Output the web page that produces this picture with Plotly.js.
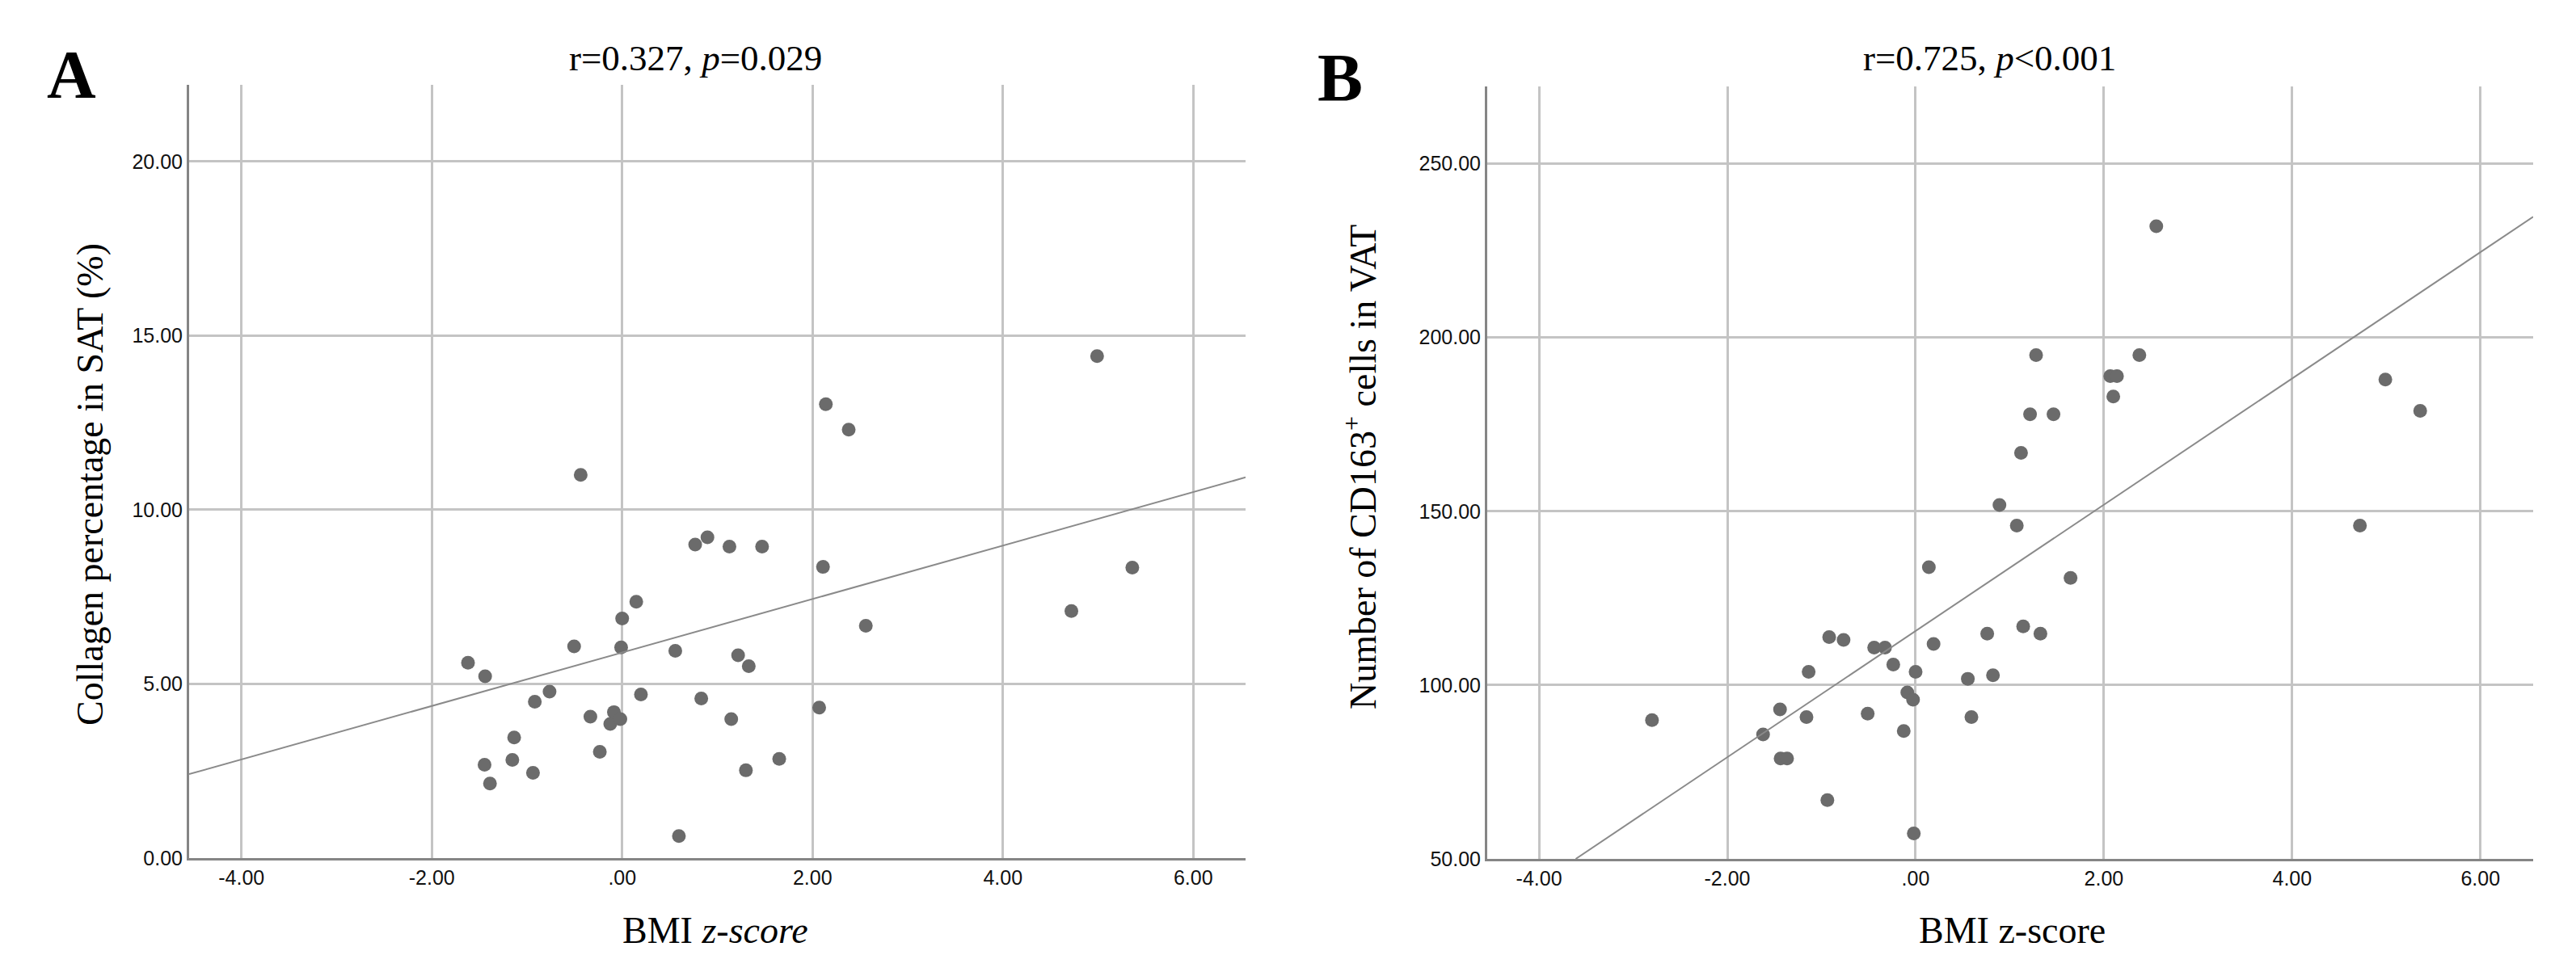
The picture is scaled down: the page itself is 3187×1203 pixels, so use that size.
<!DOCTYPE html>
<html>
<head>
<meta charset="utf-8">
<script src="https://cdn.plot.ly/plotly-3.0.1.min.js"></script>
<style>
  html, body { margin: 0; padding: 0; background: #ffffff; }
  #chart { width: 3187px; height: 1203px; }
</style>
</head>
<body>
<div id="chart"></div>
<script>
// ---- Panel A: Collagen percentage in SAT vs BMI z-score ----
const bmiA = [-1.62, -1.446, -1.44, -1.389, -1.154, -1.135, -0.937, -0.918, -0.763, -0.505,
              -0.436, -0.334, -0.235, -0.125, -0.087, -0.019, -0.011, 0.0, 0.148, 0.197,
              0.558, 0.596, 0.767, 0.831, 0.896, 1.127, 1.146, 1.218, 1.30, 1.33,
              1.47, 1.65, 2.07, 2.11, 2.14, 2.38, 2.56, 4.72, 4.99, 5.36];
const collagenSAT = [5.61, 2.68, 5.22, 2.14, 2.82, 3.46, 2.45, 4.49, 4.78, 6.08,
                     11.0, 4.06, 3.05, 3.85, 4.19, 3.99, 6.05, 6.88, 7.36, 4.70,
                     5.95, 0.63, 9.00, 4.58, 9.21, 8.94, 3.99, 5.82, 2.52, 5.51,
                     8.94, 2.85, 4.32, 8.36, 13.03, 12.30, 6.67, 7.09, 14.41, 8.34];
// fit line (end points at the axis edges)
const fitA_x = [-4.55, 6.55];
const fitA_y = [2.41, 10.93];

// ---- Panel B: Number of CD163+ cells in VAT vs BMI z-score ----
const bmiB = [-2.80, -1.62, -1.44, -1.434, -1.365, -1.159, -1.136, -0.937, -0.918, -0.765,
              -0.509, -0.44, -0.325, -0.237, -0.126, -0.088, -0.027, -0.019, 0.0, 0.141,
              0.191, 0.555, 0.593, 0.761, 0.822, 0.891, 1.075, 1.12, 1.143, 1.216,
              1.28, 1.326, 1.465, 1.646, 2.068, 2.10, 2.139, 2.377, 2.557, 4.72,
              4.99, 5.36];
const cd163VAT = [89.9, 85.8, 93.0, 78.9, 78.9, 90.8, 103.8, 66.9, 113.8, 113.0,
                  91.8, 110.8, 110.8, 105.9, 86.8, 97.9, 95.8, 57.3, 103.8, 133.9,
                  111.8, 101.8, 90.8, 114.8, 102.8, 151.8, 145.9, 166.8, 116.9, 177.9,
                  194.9, 114.8, 177.9, 130.8, 188.9, 183.0, 188.9, 194.9, 232.0, 145.9,
                  187.9, 178.9];
const fitB_x = [-3.61, 6.56];
const fitB_y = [50.0, 234.7];

// ---- tick labels ----
const xTickVals = [-4, -2, 0, 2, 4, 6];
const xTickText = ["-4.00", "-2.00", ".00", "2.00", "4.00", "6.00"];
const yTickValsA = [0, 5, 10, 15, 20];
const yTickTextA = ["0.00", "5.00", "10.00", "15.00", "20.00"];
const yTickValsB = [50, 100, 150, 200, 250];
const yTickTextB = ["50.00", "100.00", "150.00", "200.00", "250.00"];

// ---- texts ----
const titleA = "r=0.327, <i>p</i>=0.029";
const titleB = "r=0.725, <i>p</i>&lt;0.001";
const yTitleA = "Collagen percentage in SAT (%)";
const yTitleB = "Number of CD163<sup>+</sup> cells in VAT";
const xTitleA = "BMI <i>z-score</i>";
const xTitleB = "BMI z-score";

const markerColor = "#6b6b6b";
const lineColor = "#8a8a8a";
const gridColor = "#c4c4c4";
const axisColor = "#858585";
const serif = "Liberation Serif, Times New Roman, serif";
const sans = "Liberation Sans, Arial, sans-serif";

const traces = [
  { x: bmiA, y: collagenSAT, type: "scatter", mode: "markers", xaxis: "x", yaxis: "y",
    marker: { color: markerColor, size: 17 }, hoverinfo: "x+y" },
  { x: fitA_x, y: fitA_y, type: "scatter", mode: "lines", xaxis: "x", yaxis: "y",
    line: { color: lineColor, width: 2 }, hoverinfo: "skip" },
  { x: bmiB, y: cd163VAT, type: "scatter", mode: "markers", xaxis: "x2", yaxis: "y2",
    marker: { color: markerColor, size: 17 }, hoverinfo: "x+y" },
  { x: fitB_x, y: fitB_y, type: "scatter", mode: "lines", xaxis: "x2", yaxis: "y2",
    line: { color: lineColor, width: 2 }, hoverinfo: "skip" }
];

function xAxis(domain, anchor, range) {
  return {
    domain: domain, anchor: anchor, range: range,
    tickmode: "array", tickvals: xTickVals, ticktext: xTickText,
    showgrid: true, gridcolor: gridColor, gridwidth: 2.5,
    zeroline: false, showline: true, linecolor: axisColor, linewidth: 3,
    ticks: "", ticklen: 0,
    tickfont: { family: sans, size: 25, color: "#111" },
    automargin: false, fixedrange: true
  };
}
function yAxis(domain, anchor, range, vals, text) {
  return {
    domain: domain, anchor: anchor, range: range,
    tickmode: "array", tickvals: vals, ticktext: text,
    showgrid: true, gridcolor: gridColor, gridwidth: 2.5,
    zeroline: false, showline: true, linecolor: axisColor, linewidth: 3,
    ticks: "", ticklen: 0,
    tickfont: { family: sans, size: 25, color: "#111" },
    automargin: false, fixedrange: true
  };
}

const W = 3187, H = 1203;
const yDom = [1 - 1062 / H, 1 - 105 / H];
const yDomB = [1 - 1063 / H, 1 - 107 / H];

const layout = {
  width: W, height: H,
  margin: { l: 0, r: 0, t: 0, b: 0 },
  paper_bgcolor: "#ffffff", plot_bgcolor: "#ffffff",
  showlegend: false,
  xaxis: xAxis([234 / W, 1541 / W], "y", [-4.55, 6.55]),
  yaxis: yAxis(yDom, "x", [0, 22.2], yTickValsA, yTickTextA),
  xaxis2: xAxis([1840 / W, 3134 / W], "y2", [-4.55, 6.56]),
  yaxis2: yAxis(yDomB, "x2", [50, 272.2], yTickValsB, yTickTextB),
  annotations: [
    { text: "<b>A</b>", x: 88 / W, y: 1 - 93 / H, xref: "paper", yref: "paper",
      xanchor: "center", yanchor: "middle", showarrow: false,
      font: { family: serif, size: 84, color: "#000" } },
    { text: "<b>B</b>", x: 1658 / W, y: 1 - 96 / H, xref: "paper", yref: "paper",
      xanchor: "center", yanchor: "middle", showarrow: false,
      font: { family: serif, size: 84, color: "#000" } },
    { text: titleA, x: 860 / W, y: 1 - 72 / H, xref: "paper", yref: "paper",
      xanchor: "center", yanchor: "middle", showarrow: false,
      font: { family: serif, size: 45, color: "#000" } },
    { text: titleB, x: 2461 / W, y: 1 - 72 / H, xref: "paper", yref: "paper",
      xanchor: "center", yanchor: "middle", showarrow: false,
      font: { family: serif, size: 45, color: "#000" } },
    { text: xTitleA, x: 885 / W, y: 1 - 1151 / H, xref: "paper", yref: "paper",
      xanchor: "center", yanchor: "middle", showarrow: false,
      font: { family: serif, size: 46, color: "#000" } },
    { text: xTitleB, x: 2489 / W, y: 1 - 1151 / H, xref: "paper", yref: "paper",
      xanchor: "center", yanchor: "middle", showarrow: false,
      font: { family: serif, size: 46, color: "#000" } },
    { text: yTitleA, x: 111 / W, y: 1 - 600 / H, xref: "paper", yref: "paper",
      xanchor: "center", yanchor: "middle", showarrow: false, textangle: -90,
      font: { family: serif, size: 46, color: "#000" } },
    { text: yTitleB, x: 1683 / W, y: 1 - 578 / H, xref: "paper", yref: "paper",
      xanchor: "center", yanchor: "middle", showarrow: false, textangle: -90,
      font: { family: serif, size: 46, color: "#000" } }
  ]
};

Plotly.newPlot("chart", traces, layout, { displayModeBar: false, responsive: false });
</script>
</body>
</html>
